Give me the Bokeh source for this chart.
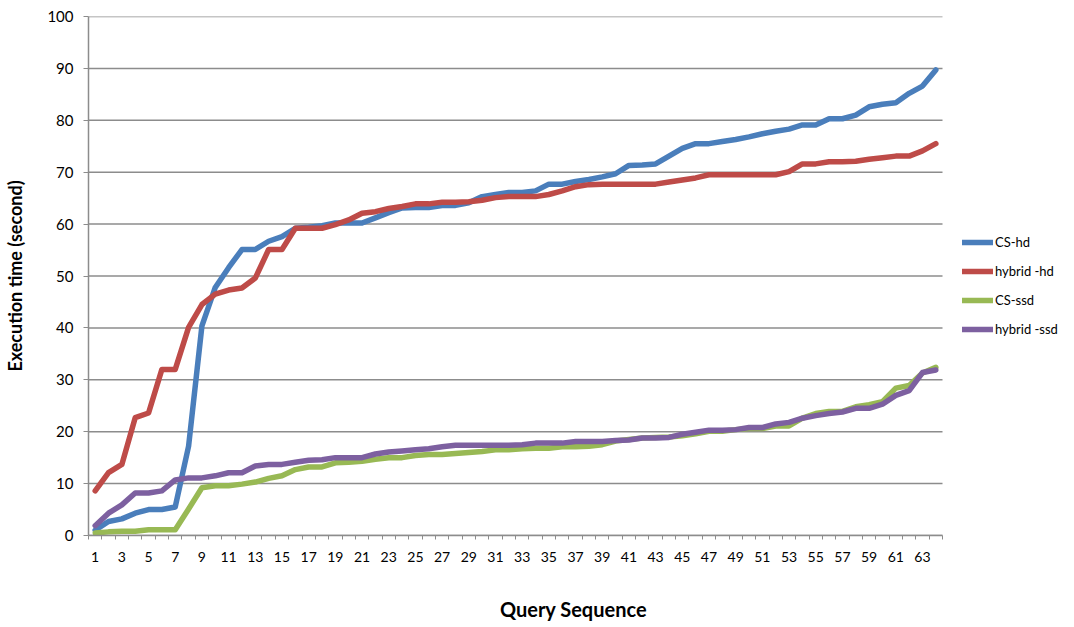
from bokeh.plotting import figure
from bokeh.models import FixedTicker, Legend, LegendItem
from bokeh.embed import file_html
from bokeh.resources import INLINE

queries = list(range(1, 65))
x_tick_labels = [str(v) for v in range(1, 64, 2)]
y_ticks = [0, 10, 20, 30, 40, 50, 60, 70, 80, 90, 100]

cs_hd = [1.0, 2.7, 3.2, 4.3, 5.0, 5.0, 5.5, 17.2, 40.4, 47.8, 51.6, 55.1, 55.1, 56.7, 57.6, 59.2,
         59.4, 59.7, 60.2, 60.2, 60.2, 61.2, 62.2, 63.1, 63.2, 63.2, 63.6, 63.6, 64.1, 65.3, 65.7, 66.1,
         66.1, 66.4, 67.7, 67.7, 68.2, 68.6, 69.1, 69.7, 71.3, 71.4, 71.6, 73.1, 74.6, 75.5, 75.5, 75.9,
         76.3, 76.8, 77.4, 77.9, 78.3, 79.1, 79.1, 80.3, 80.3, 81.0, 82.6, 83.1, 83.4, 85.2, 86.6, 89.7]
hybrid_hd = [8.6, 12.1, 13.7, 22.7, 23.6, 32.0, 32.0, 40.1, 44.5, 46.5, 47.3, 47.7, 49.6, 55.1, 55.1, 59.2,
             59.2, 59.2, 59.9, 60.8, 62.1, 62.4, 63.0, 63.4, 63.9, 63.9, 64.2, 64.2, 64.3, 64.6, 65.1, 65.3,
             65.3, 65.3, 65.7, 66.4, 67.2, 67.6, 67.7, 67.7, 67.7, 67.7, 67.7, 68.1, 68.5, 68.9, 69.5, 69.5,
             69.5, 69.5, 69.5, 69.5, 70.1, 71.6, 71.6, 72.0, 72.0, 72.1, 72.5, 72.8, 73.1, 73.1, 74.1, 75.5]
cs_ssd = [0.5, 0.7, 0.8, 0.8, 1.1, 1.1, 1.1, 5.1, 9.2, 9.6, 9.6, 9.9, 10.3, 11.0, 11.5, 12.7,
          13.2, 13.2, 14.0, 14.1, 14.3, 14.7, 15.0, 15.0, 15.4, 15.6, 15.6, 15.8, 16.0, 16.2, 16.5, 16.5,
          16.7, 16.8, 16.8, 17.1, 17.1, 17.2, 17.5, 18.2, 18.5, 18.8, 18.9, 19.0, 19.2, 19.6, 20.1, 20.1,
          20.4, 20.6, 20.6, 21.1, 21.1, 22.6, 23.5, 23.9, 23.9, 24.8, 25.2, 25.8, 28.4, 28.9, 31.3, 32.4]
hybrid_ssd = [1.9, 4.3, 5.9, 8.2, 8.2, 8.6, 10.7, 11.1, 11.1, 11.5, 12.1, 12.1, 13.4, 13.7, 13.7, 14.1,
              14.5, 14.6, 15.0, 15.0, 15.0, 15.7, 16.1, 16.3, 16.5, 16.7, 17.1, 17.4, 17.4, 17.4, 17.4, 17.4,
              17.5, 17.8, 17.8, 17.8, 18.1, 18.1, 18.1, 18.3, 18.4, 18.8, 18.8, 18.9, 19.5, 19.9, 20.3, 20.3,
              20.4, 20.8, 20.8, 21.5, 21.8, 22.6, 23.1, 23.5, 23.8, 24.5, 24.5, 25.3, 27.0, 27.9, 31.4, 31.9]

series_names = ["CS-hd", "hybrid -hd", "CS-ssd", "hybrid -ssd"]
series_values = [cs_hd, hybrid_hd, cs_ssd, hybrid_ssd]
series_colors = ["#4a7ebb", "#be4b48", "#98b954", "#7d60a0"]

FONT = "Lato"
GRID = "#8c8c8c"

# layout: the category area is 854 px wide; the frame extends further right
# so that the legend (outside the category area) is drawn inside the canvas.
cat_w = 854
frame_w = 970
frame_h = 519
x_start = 0.5
x_cat_end = len(queries) + 0.5
x_end = x_start + (x_cat_end - x_start) * frame_w / cat_w

p = figure(frame_width=frame_w, frame_height=frame_h,
           x_range=(x_start, x_end), y_range=(0, 100),
           output_backend="svg", toolbar_location=None,
           min_border_left=88, min_border_right=0, min_border_top=16, min_border_bottom=76)
p.outline_line_color = None
p.background_fill_color = "white"
p.border_fill_color = "white"

# horizontal gridlines limited to the category area
p.segment(x0=[x_start] * len(y_ticks), x1=[x_cat_end] * len(y_ticks), y0=y_ticks, y1=y_ticks,
          line_color=GRID, line_width=1.5)

items = []
for name, vals, col in zip(series_names, series_values, series_colors):
    r = p.line(queries, vals, line_color=col, line_width=5.5, line_join="round", line_cap="round")
    items.append(LegendItem(label=name, renderers=[r]))

# x axis
p.xaxis.bounds = (x_start, x_cat_end)
p.xaxis.ticker = FixedTicker(ticks=[int(t) for t in x_tick_labels],
                             minor_ticks=[q - 0.5 for q in queries] + [x_cat_end])
p.xaxis.major_tick_line_color = None
p.xaxis.major_tick_out = 0
p.xaxis.major_tick_in = 0
p.xaxis.minor_tick_line_color = GRID
p.xaxis.minor_tick_out = 4
p.xaxis.minor_tick_in = 0
p.xaxis.minor_tick_line_width = 1
p.xaxis.axis_line_color = GRID
p.xaxis.axis_line_width = 1.5
p.xaxis.major_label_standoff = 12
p.xaxis.major_label_text_font = FONT
p.xaxis.major_label_text_font_size = "14px"
p.xaxis.major_label_text_color = "black"
p.xaxis.axis_label = "Query Sequence"
p.xaxis.axis_label_text_font = FONT
p.xaxis.axis_label_text_font_style = "bold"
p.xaxis.axis_label_text_font_size = "20px"
p.xaxis.axis_label_text_color = "black"
p.xaxis.axis_label_standoff = 32

# y axis
p.yaxis.ticker = FixedTicker(ticks=y_ticks)
p.yaxis.minor_tick_line_color = None
p.yaxis.major_tick_line_color = GRID
p.yaxis.major_tick_out = 5
p.yaxis.major_tick_in = 0
p.yaxis.axis_line_color = GRID
p.yaxis.axis_line_width = 1.5
p.yaxis.major_label_standoff = 10
p.yaxis.major_label_text_font = FONT
p.yaxis.major_label_text_font_size = "15px"
p.yaxis.major_label_text_color = "black"
p.yaxis.axis_label = "Execution time (second)"
p.yaxis.axis_label_text_font = FONT
p.yaxis.axis_label_text_font_style = "bold"
p.yaxis.axis_label_text_font_size = "18px"
p.yaxis.axis_label_text_color = "black"
p.yaxis.axis_label_standoff = 18

p.xgrid.grid_line_color = None
p.ygrid.grid_line_color = None

legend = Legend(items=items, location=(874, 196), orientation="vertical",
                border_line_color=None, background_fill_alpha=0,
                padding=0, margin=0, spacing=9, glyph_width=31, glyph_height=20,
                label_height=20, label_standoff=2,
                label_text_font=FONT, label_text_font_size="13px", label_text_color="black")
p.add_layout(legend)

open("out.html", "w").write(file_html(p, INLINE))
